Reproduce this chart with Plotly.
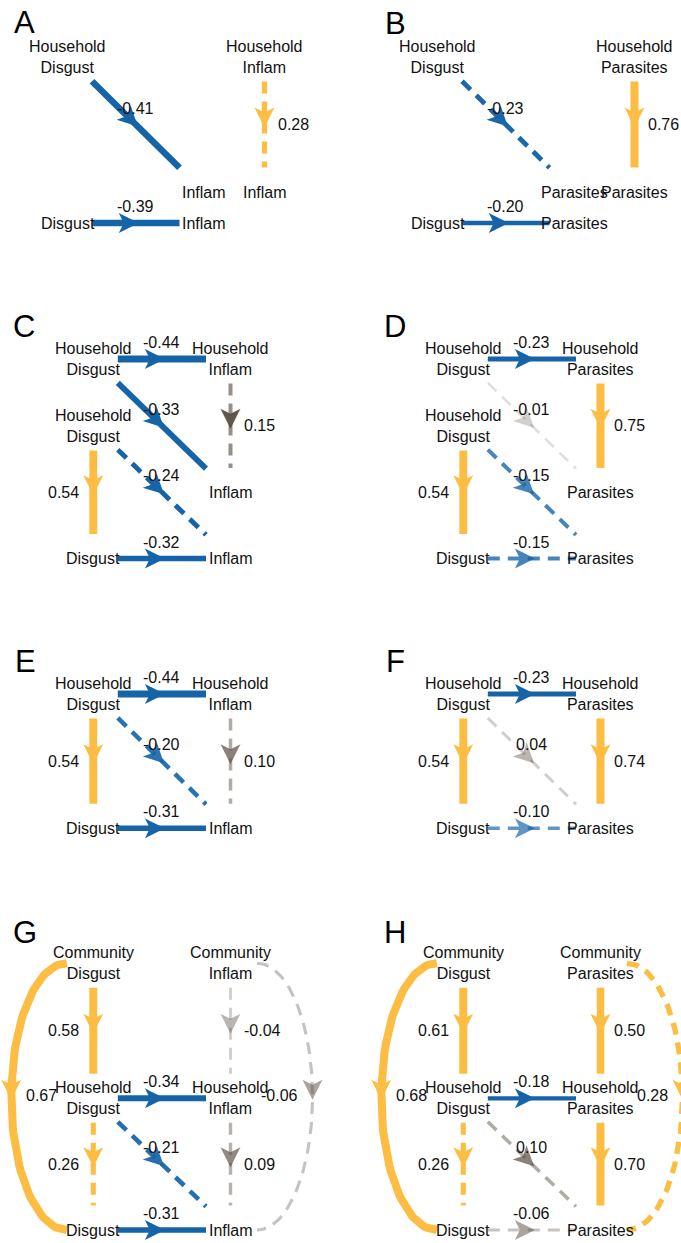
import math
import plotly.graph_objects as go

# ---------------- data ----------------
panel_letters = ["A", "B", "C", "D", "E", "F", "G", "H"]
panel_outcome = ["Inflam", "Parasites", "Inflam", "Parasites", "Inflam", "Parasites", "Inflam", "Parasites"]

# Panel A
A_from = ["HD", "HO", "D"]
A_to = ["O1", "O2", "O3"]
A_coef = [-0.41, 0.28, -0.39]
A_sig = ["p<.01", "p<.05", "p<.01"]
# Panel B
B_from = ["HD", "HO", "D"]
B_to = ["O1", "O2", "O3"]
B_coef = [-0.23, 0.76, -0.20]
B_sig = ["p<.05", "p<.01", "p<.01"]
# Panel C
C_from = ["HD1", "HD1", "HO", "HD2", "HD2", "D"]
C_to = ["HO", "O1", "O1", "D", "O2", "O2"]
C_coef = [-0.44, -0.33, 0.15, 0.54, -0.24, -0.32]
C_sig = ["p<.01", "p<.01", "ns", "p<.01", "p<.05", "p<.01"]
# Panel D
D_from = ["HD1", "HD1", "HO", "HD2", "HD2", "D"]
D_to = ["HO", "O1", "O1", "D", "O2", "O2"]
D_coef = [-0.23, -0.01, 0.75, 0.54, -0.15, -0.15]
D_sig = ["p<.01", "ns", "p<.01", "p<.01", "p<.05", "p<.05"]
# Panel E
E_from = ["HD", "HD", "HD", "HO", "D"]
E_to = ["HO", "D", "O", "O", "O"]
E_coef = [-0.44, 0.54, -0.20, 0.10, -0.31]
E_sig = ["p<.01", "p<.01", "p<.05", "ns", "p<.01"]
# Panel F
F_from = ["HD", "HD", "HD", "HO", "D"]
F_to = ["HO", "D", "O", "O", "O"]
F_coef = [-0.23, 0.54, 0.04, 0.74, -0.10]
F_sig = ["p<.01", "p<.01", "ns", "p<.01", "p<.05"]
# Panel G
G_from = ["CD", "CO", "HD", "HD", "HD", "HO", "D", "CD", "CO"]
G_to = ["HD", "HO", "HO", "D", "O", "O", "O", "D", "O"]
G_coef = [0.58, -0.04, -0.34, 0.26, -0.21, 0.09, -0.31, 0.67, -0.06]
G_sig = ["p<.01", "ns", "p<.01", "p<.05", "p<.05", "ns", "p<.01", "p<.01", "ns"]
# Panel H
H_from = ["CD", "CO", "HD", "HD", "HD", "HO", "D", "CD", "CO"]
H_to = ["HD", "HO", "HO", "D", "O", "O", "O", "D", "O"]
H_coef = [0.61, 0.50, -0.18, 0.26, 0.10, 0.70, -0.06, 0.68, 0.28]
H_sig = ["p<.01", "p<.01", "p<.01", "p<.05", "ns", "p<.01", "ns", "p<.01", "p<.05"]

panel_edges = {
    "A": (A_from, A_to, A_coef, A_sig), "B": (B_from, B_to, B_coef, B_sig),
    "C": (C_from, C_to, C_coef, C_sig), "D": (D_from, D_to, D_coef, D_sig),
    "E": (E_from, E_to, E_coef, E_sig), "F": (F_from, F_to, F_coef, F_sig),
    "G": (G_from, G_to, G_coef, G_sig), "H": (H_from, H_to, H_coef, H_sig),
}

# ---------------- layout (positions / styles) ----------------
W, H = 681, 1243
DX_RIGHT = 370
LAYOUT_AB = dict(HD=(67.5, 57), O1=(204, 192), HO=(264.5, 57), O2=(264.5, 192), D=(67.5, 223), O3=(204, 223))
LAYOUT_CD = dict(HD1=(93.3, 359), HO=(230.5, 359), HD2=(93.3, 426), O1=(230.5, 492.5),
                 D=(93.3, 558.5), O2=(230.5, 558.5))
LAYOUT_EF = dict(HD=(93.3, 694), HO=(230.5, 694), D=(93.3, 828.3), O=(230.5, 828.3))
LAYOUT_GH = dict(CD=(93.3, 963.3), CO=(230.5, 963.3), HD=(93.3, 1098.3), HO=(230.5, 1098.3),
                 D=(93.3, 1230), O=(230.5, 1230))
panel_layout = {"A": LAYOUT_AB, "B": LAYOUT_AB, "C": LAYOUT_CD, "D": LAYOUT_CD,
                "E": LAYOUT_EF, "F": LAYOUT_EF, "G": LAYOUT_GH, "H": LAYOUT_GH}
letter_pos = {"A": (24, 22), "B": (395, 23), "C": (24, 326), "D": (395, 326),
              "E": (25, 661), "F": (395, 661), "G": (25, 932), "H": (395, 932)}

BLUE = (22, 100, 168)
YELLOW = (253, 188, 66)
GRAY = (90, 76, 66)
FONT = "Arial, 'Liberation Sans', sans-serif"
NODE_HALF = 24.5
DASH = "12px,8px"


def rgba(c, a):
    return f"rgba({c[0]},{c[1]},{c[2]},{min(1.0, a):.3f})"


def node_label(nid, outcome):
    base = nid.rstrip("0123456789")
    return {"HD": "Household<br>Disgust", "HO": "Household<br>" + outcome,
            "CD": "Community<br>Disgust", "CO": "Community<br>" + outcome,
            "D": "Disgust"}.get(base, outcome)


def edge_style(b, sig):
    w = min(8.0, 2.5 + 10 * abs(b))
    if sig == "ns":
        a = 0.15 + 3.2 * abs(b)
        return rgba(GRAY, a), rgba(GRAY, 1.5 * a), w, DASH
    base = YELLOW if b > 0 else BLUE
    if sig == "p<.05":
        a = 0.45 + 2.3 * abs(b)
        return rgba(base, a), rgba(base, a), w, DASH
    return rgba(base, 1), rgba(base, 1), w, "solid"


def arrow_poly(mx, my, ux, uy, L=20.0, hw=10.0, notch=5.0):
    tx, ty = mx + 3 * ux, my + 3 * uy
    nx, ny = -uy, ux
    steps = [0.25, 0.5, 0.75, 1.0]
    xs, ys = [tx], [ty]
    for s in steps:
        w = hw * s ** 1.05
        xs.append(tx - ux * L * s + nx * w)
        ys.append(ty - uy * L * s + ny * w)
    xs.append(tx - ux * (L - notch))
    ys.append(ty - uy * (L - notch))
    for s in reversed(steps):
        w = hw * s ** 1.05
        xs.append(tx - ux * L * s - nx * w)
        ys.append(ty - uy * L * s - ny * w)
    xs.append(tx)
    ys.append(ty)
    return xs, ys


fig = go.Figure()
annotations = []

for i, letter in enumerate(panel_letters):
    outcome = panel_outcome[i]
    dx = DX_RIGHT if i % 2 == 1 else 0
    lay = {k: (v[0] + dx, v[1]) for k, v in panel_layout[letter].items()}
    xmid = 162 + dx
    froms, tos, coefs, sigs = panel_edges[letter]

    for f, t, b, sig in zip(froms, tos, coefs, sigs):
        p, q = lay[f], lay[t]
        lcol, acol, lw, dash = edge_style(b, sig)
        label = f"{b:.2f}"
        if p[0] == q[0] and abs(q[1] - p[1]) > 200:
            # curved edge between non-adjacent rows in the same column
            s = -1 if p[0] < xmid else 1
            x0 = p[0] + s * 26.5
            cy = (p[1] + q[1]) / 2
            bb = (q[1] - p[1]) / 2
            a = 55.5
            n = 80
            xs = [x0 + s * a * math.sin(math.pi * k / n) for k in range(n + 1)]
            ys = [cy - bb * math.cos(math.pi * k / n) for k in range(n + 1)]
            fig.add_trace(go.Scatter(x=xs, y=ys, mode="lines", hoverinfo="skip", showlegend=False,
                                     line=dict(color=lcol, width=lw, dash=dash)))
            cmx = x0 + s * a
            ax_, ay_ = arrow_poly(cmx, cy, 0, 1)
            fig.add_trace(go.Scatter(x=ax_, y=ay_, mode="lines", fill="toself", fillcolor=acol,
                                     line=dict(width=0, color=acol), hoverinfo="skip", showlegend=False))
            annotations.append(dict(x=cmx - s * 13, y=cy - 1.5, text=label, showarrow=False,
                                    xanchor="left" if s < 0 else "right", yanchor="middle",
                                    font=dict(size=16, color="#111", family=FONT)))
            continue
        ddx, ddy = q[0] - p[0], q[1] - p[1]
        tt = min(NODE_HALF / abs(ddx) if ddx else 1e9, NODE_HALF / abs(ddy) if ddy else 1e9)
        sx, sy = p[0] + ddx * tt, p[1] + ddy * tt
        ex, ey = q[0] - ddx * tt, q[1] - ddy * tt
        fig.add_trace(go.Scatter(x=[sx, ex], y=[sy, ey], mode="lines", hoverinfo="skip", showlegend=False,
                                 line=dict(color=lcol, width=lw, dash=dash)))
        ln = math.hypot(ddx, ddy)
        ux, uy = ddx / ln, ddy / ln
        mx, my = (p[0] + q[0]) / 2, (p[1] + q[1]) / 2
        ax_, ay_ = arrow_poly(mx, my, ux, uy)
        fig.add_trace(go.Scatter(x=ax_, y=ay_, mode="lines", fill="toself", fillcolor=acol,
                                 line=dict(width=0, color=acol), hoverinfo="skip", showlegend=False))
        if ddx == 0:
            if p[0] < xmid:
                annotations.append(dict(x=p[0] - 12, y=my, text=label, xanchor="right"))
            else:
                annotations.append(dict(x=p[0] + 11, y=my, text=label, xanchor="left"))
        else:
            annotations.append(dict(x=mx, y=my - 16.5, text=label, xanchor="center"))
        annotations[-1].update(showarrow=False, yanchor="middle",
                               font=dict(size=16, color="#111", family=FONT))

    for nid, (x, y) in lay.items():
        annotations.append(dict(x=x, y=y, text=node_label(nid, outcome), showarrow=False,
                                xanchor="center", yanchor="middle",
                                font=dict(size=16, color="#111", family=FONT)))
    lx, ly = letter_pos[letter]
    annotations.append(dict(x=lx, y=ly, text=letter, showarrow=False, xanchor="center", yanchor="middle",
                            font=dict(size=31, color="#000", family=FONT)))

fig.update_layout(
    width=W, height=H, margin=dict(l=0, r=0, t=0, b=0),
    paper_bgcolor="white", plot_bgcolor="white",
    xaxis=dict(range=[0, W], visible=False, fixedrange=True),
    yaxis=dict(range=[H, 0], visible=False, fixedrange=True),
    annotations=annotations, showlegend=False,
)
fig.write_html("out.html", config={"displayModeBar": False},
               post_script="document.body.style.margin='0';document.body.style.overflow='hidden';")
